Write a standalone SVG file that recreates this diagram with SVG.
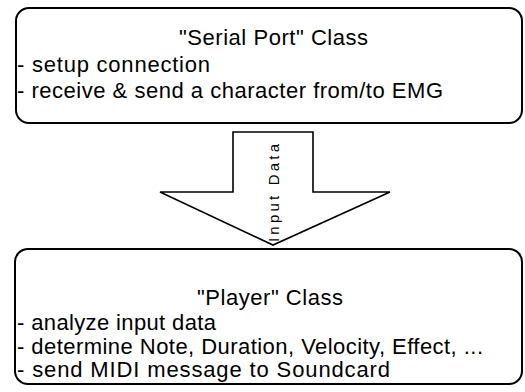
<svg xmlns="http://www.w3.org/2000/svg" width="525" height="392" viewBox="0 0 525 392">
  <style>
    .box { fill: #ffffff; stroke: #000000; stroke-width: 2; }
    .arrow { fill: #ffffff; stroke: #000000; stroke-width: 1.6; stroke-linejoin: miter; }
    .t { font-family: "Liberation Sans", Arial, sans-serif; font-size: 22px; fill: #000000; }
    .c { text-anchor: middle; }
    .lbl { font-family: "Liberation Sans", Arial, sans-serif; font-size: 15px; fill: #000000; text-anchor: middle; }
  </style>
  <rect x="0" y="0" width="525" height="392" fill="#ffffff"/>
  <g id="connectors">
    <polygon class="arrow" points="233,132 313,132 313,192 390,192 273,245 160,192 233,192"/>
    <text class="lbl" transform="translate(279,193) rotate(-90)" textLength="98" lengthAdjust="spacing">Input Data</text>
  </g>
  <g id="node-serial-port">
    <rect class="box" x="16" y="8" width="506" height="115" rx="13" ry="13"/>
    <text class="t c" x="273.5" y="45" textLength="189" lengthAdjust="spacing">"Serial Port" Class</text>
    <text class="t" x="17" y="72" textLength="193" lengthAdjust="spacing">- setup connection</text>
    <text class="t" x="17" y="98" textLength="426" lengthAdjust="spacing">- receive &amp; send a character from/to EMG</text>
  </g>
  <g id="node-player">
    <rect class="box" x="15" y="249" width="507" height="135" rx="13" ry="13"/>
    <text class="t c" x="270" y="305" textLength="146" lengthAdjust="spacing">"Player" Class</text>
    <text class="t" x="17" y="330" textLength="199" lengthAdjust="spacing">- analyze input data</text>
    <text class="t" x="17" y="354" textLength="466" lengthAdjust="spacing">- determine Note, Duration, Velocity, Effect, ...</text>
    <text class="t" x="17" y="377" textLength="373" lengthAdjust="spacing">- send MIDI message to Soundcard</text>
  </g>
</svg>
